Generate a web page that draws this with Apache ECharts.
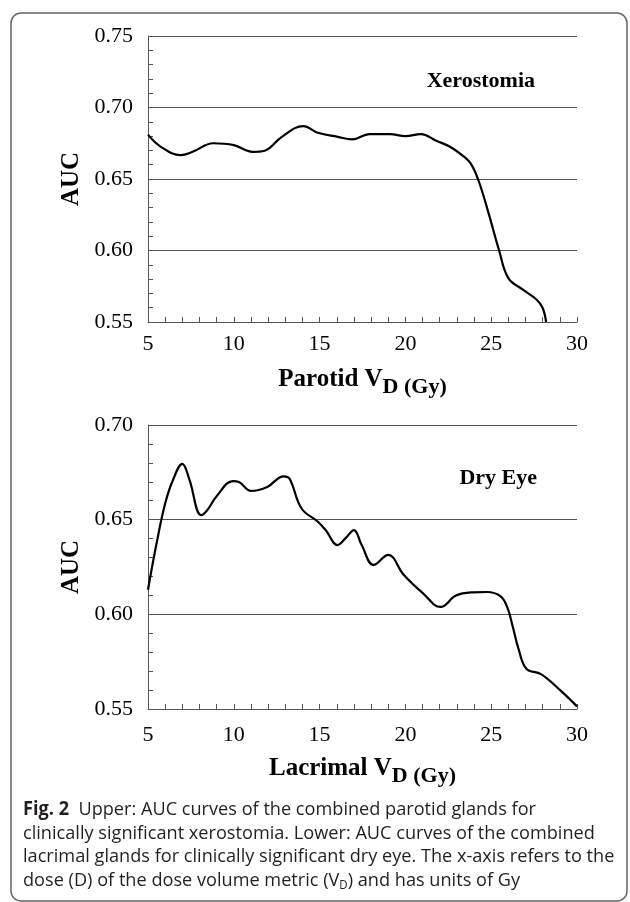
<!DOCTYPE html>
<html>
<head>
<meta charset="utf-8">
<script src="https://cdn.jsdelivr.net/npm/echarts@6.0.0/dist/echarts.min.js"></script>
<style>
    html, body { margin: 0; padding: 0; background: #fff; }
    #container { width: 630px; height: 902px; }
</style>
</head>
<body>
<div id="container"></div>
<script>
    // upper panel: parotid glands / xerostomia
    var parotidDose = [5, 5.75, 6.9, 7.6, 8.8, 10.0, 11.1, 11.8, 12.8, 14.05, 14.9, 16.05, 16.9, 17.9, 19.1, 20.0, 20.9, 21.8, 22.6, 23.3, 23.8, 24.25, 24.85, 25.45, 26.0, 26.85, 27.65, 28.0, 28.2];
    var parotidAuc = [0.681, 0.6725, 0.6667, 0.669, 0.675, 0.6737, 0.669, 0.6698, 0.6795, 0.687, 0.6823, 0.6795, 0.6777, 0.6814, 0.6814, 0.680, 0.6814, 0.6767, 0.6726, 0.6667, 0.6609, 0.6493, 0.626, 0.6005, 0.5807, 0.5726, 0.5656, 0.5598, 0.55];

    // lower panel: lacrimal glands / dry eye
    var lacrimalDose = [5, 5.5, 6.0, 6.45, 7.0, 7.4, 8.1, 8.45, 9.0, 9.95, 10.3, 11.0, 11.95, 12.9, 13.25, 13.95, 14.9, 15.35, 16.05, 16.5, 17.0, 17.45, 18.15, 19.0, 19.9, 21.0, 22.05, 22.95, 23.9, 24.75, 25.55, 25.95, 26.25, 26.6, 27.05, 27.9, 28.95, 30];
    var lacrimalAuc = [0.613, 0.6375, 0.6585, 0.6708, 0.6795, 0.6716, 0.6524, 0.655, 0.6624, 0.6704, 0.6699, 0.6652, 0.6673, 0.6729, 0.6716, 0.6559, 0.6489, 0.6445, 0.6366, 0.6401, 0.6445, 0.6366, 0.6261, 0.6314, 0.6209, 0.6113, 0.6039, 0.6099, 0.6116, 0.6118, 0.6095, 0.6034, 0.5937, 0.5815, 0.5713, 0.5684, 0.5605, 0.5514];

    var captionLines = [
        '{b|Fig. 2}  Upper: AUC curves of the combined parotid glands for',
        'clinically significant xerostomia. Lower: AUC curves of the combined',
        'lacrimal glands for clinically significant dry eye. The x-axis refers to the',
        'dose (D) of the dose volume metric (V{sub|D}) and has units of Gy'
    ];

    var serif = "'Liberation Serif', 'Times New Roman', serif";
    var sans = "'Open Sans', sans-serif";

    function pairs(xs, ys) {
        return xs.map(function (x, i) { return [x, ys[i]]; });
    }

    function xAxisFor(idx, title, margin, gap) {
        return {
            type: 'value', gridIndex: idx, min: 5, max: 30, interval: 5,
            axisLine: { show: true, lineStyle: { color: '#555', width: 1 } },
            axisTick: { show: true, inside: true, length: 5, lineStyle: { color: '#555' } },
            minorTick: { show: true, splitNumber: 5, length: 5, lineStyle: { color: '#555' } },
            splitLine: { show: false },
            axisLabel: { color: '#000', fontFamily: serif, fontSize: 22, margin: margin },
            name: '{a|' + title + ' V}{b|D (Gy)}',
            nameLocation: 'middle', nameGap: gap,
            nameTextStyle: {
                rich: {
                    a: { fontFamily: serif, fontSize: 25, fontWeight: 'bold', color: '#000' },
                    b: { fontFamily: serif, fontSize: 22, fontWeight: 'bold', color: '#000', padding: [14, 0, 0, 0] }
                }
            }
        };
    }

    function yAxisFor(idx, max) {
        return {
            type: 'value', gridIndex: idx, min: 0.55, max: max, interval: 0.05,
            axisLine: { show: true, lineStyle: { color: '#555', width: 1 } },
            axisTick: { show: true, inside: true, length: 5, lineStyle: { color: '#555' } },
            minorTick: { show: true, splitNumber: 5, length: 5, lineStyle: { color: '#555' } },
            splitLine: { show: true, lineStyle: { color: '#555', width: 1 } },
            axisLabel: {
                color: '#000', fontFamily: serif, fontSize: 22, margin: 15,
                formatter: function (v) { return v.toFixed(2); }
            },
            name: 'AUC', nameLocation: 'middle', nameGap: 60,
            nameTextStyle: { fontFamily: serif, fontSize: 25, fontWeight: 'bold', color: '#000' }
        };
    }

    var captionTexts = captionLines.map(function (line, i) {
        return {
            type: 'text', x: 0, y: 810 + i * 23.5,
            style: {
                text: line, fill: '#231f20', fontFamily: sans, fontSize: 19,
                verticalAlign: 'middle',
                rich: {
                    b: { fontFamily: sans, fontSize: 19, fontWeight: 'bold', fill: '#231f20' },
                    sub: { fontFamily: sans, fontSize: 12, fill: '#231f20', padding: [11, 0, 0, 0] }
                }
            }
        };
    });

    var dom = document.getElementById('container');
    var myChart = echarts.init(dom, null, { renderer: 'canvas' });

    var option = {
        backgroundColor: '#fff',
        animation: false,
        title: [
            { text: 'Xerostomia', right: 90, top: 65, textStyle: { fontFamily: serif, fontSize: 22, fontWeight: 'bold', color: '#000' } },
            { text: 'Dry Eye', right: 88, top: 462, textStyle: { fontFamily: serif, fontSize: 22, fontWeight: 'bold', color: '#000' } }
        ],
        grid: [
            { left: 148, right: 53, top: 36, height: 286 },
            { left: 148, right: 53, top: 425, height: 284 }
        ],
        xAxis: [xAxisFor(0, 'Parotid', 11, 40), xAxisFor(1, 'Lacrimal', 15, 42)],
        yAxis: [yAxisFor(0, 0.75), yAxisFor(1, 0.70)],
        series: [
            {
                name: 'Xerostomia', type: 'line', xAxisIndex: 0, yAxisIndex: 0,
                data: pairs(parotidDose, parotidAuc), smooth: 0.4, showSymbol: false,
                lineStyle: { color: '#000', width: 2.2 }
            },
            {
                name: 'Dry Eye', type: 'line', xAxisIndex: 1, yAxisIndex: 1,
                data: pairs(lacrimalDose, lacrimalAuc), smooth: 0.4, showSymbol: false,
                lineStyle: { color: '#000', width: 2.2 }
            }
        ],
        graphic: [
            {
                type: 'rect', shape: { x: 11, y: 13, width: 616, height: 888, r: 10 },
                style: { fill: 'none', stroke: '#666', lineWidth: 1.5 }, silent: true, z: -1
            },
            { type: 'group', x: 23, y: 0, scaleX: 0.955, children: captionTexts }
        ]
    };

    myChart.setOption(option, true);
</script>
</body>
</html>
